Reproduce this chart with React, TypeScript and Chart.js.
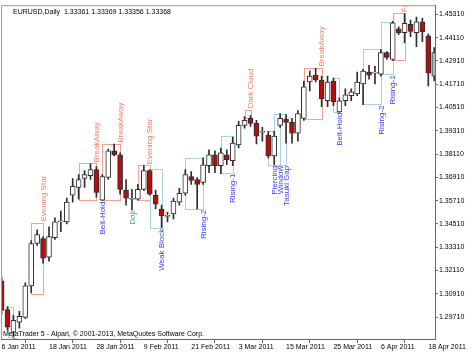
import React, { useEffect, useRef } from "react";
import { Chart, registerables } from "chart.js";

Chart.register(...registerables);

const FONT = "'Liberation Sans', Arial, sans-serif";

// Daily EURUSD candles, 6 Jan 2011 .. 19 Apr 2011 (index = trading day)
const opens = [
  1.31572, 1.301, 1.28933, 1.2944, 1.29694, 1.31318, 1.335, 1.33754, 1.3279, 1.33805,
  1.34617, 1.34617, 1.35987, 1.36393, 1.3685, 1.37002, 1.37307, 1.35733, 1.36901, 1.38271,
  1.38068, 1.36241, 1.3578, 1.35784, 1.36292, 1.37256, 1.35987, 1.35277, 1.34896, 1.35023,
  1.35632, 1.36089, 1.36951, 1.36799, 1.36647, 1.3751, 1.38068, 1.3751, 1.38068, 1.37763,
  1.38575, 1.3959, 1.39946, 1.39692, 1.39235, 1.39083, 1.38017, 1.3959, 1.39895, 1.39743,
  1.39184, 1.39946, 1.41823, 1.42179, 1.41925, 1.40859, 1.41874, 1.40276, 1.40859, 1.41113,
  1.41214, 1.41722, 1.42331, 1.4228, 1.42229, 1.43346, 1.42991, 1.44564, 1.44361, 1.44792,
  1.44361, 1.44919, 1.44209, 1.42128,
];
const highs = [
  1.31775, 1.30252, 1.29796, 1.29999, 1.3147, 1.33653, 1.34211, 1.33856, 1.34363, 1.3482,
  1.35175, 1.35835, 1.3685, 1.37053, 1.37256, 1.37611, 1.37459, 1.37053, 1.38372, 1.38626,
  1.38169, 1.36799, 1.36292, 1.36545, 1.3751, 1.37307, 1.36241, 1.3548, 1.35124, 1.35835,
  1.36342, 1.37307, 1.37205, 1.36901, 1.37916, 1.38322, 1.38271, 1.38423, 1.38322, 1.38981,
  1.39793, 1.40047, 1.40098, 1.39844, 1.39489, 1.39286, 1.39286, 1.40199, 1.40149, 1.39946,
  1.40352, 1.41874, 1.42382, 1.42534, 1.42128, 1.42128, 1.42026, 1.41011, 1.41468, 1.41468,
  1.42331, 1.42483, 1.42686, 1.42635, 1.43498, 1.43397, 1.44945, 1.44665, 1.45351, 1.45021,
  1.45173, 1.45122, 1.4431, 1.436,
];
const lows = [
  1.29846, 1.29034, 1.28679, 1.29136, 1.29643, 1.30963, 1.33399, 1.32485, 1.32587, 1.33704,
  1.34109, 1.34515, 1.35632, 1.35784, 1.36393, 1.36799, 1.35886, 1.35708, 1.36799, 1.38017,
  1.36038, 1.3548, 1.35226, 1.35733, 1.36241, 1.35987, 1.35277, 1.34312, 1.34617, 1.34769,
  1.3548, 1.35987, 1.36545, 1.35277, 1.36545, 1.37154, 1.37154, 1.37104, 1.3756, 1.3751,
  1.38423, 1.39438, 1.3954, 1.38626, 1.38778, 1.37916, 1.3756, 1.39489, 1.38677, 1.38677,
  1.38778, 1.39844, 1.41367, 1.41823, 1.40555, 1.40555, 1.40605, 1.4025, 1.40605, 1.40859,
  1.41113, 1.40656, 1.41976, 1.41722, 1.42128, 1.42991, 1.4294, 1.44259, 1.43853, 1.44158,
  1.4365, 1.43904, 1.4162, 1.41874,
];
const closes = [
  1.30049, 1.29187, 1.29542, 1.29745, 1.31318, 1.335, 1.33957, 1.32739, 1.33856, 1.34617,
  1.34668, 1.35632, 1.36444, 1.36799, 1.37053, 1.37307, 1.36139, 1.36951, 1.38271, 1.38068,
  1.36292, 1.35835, 1.3578, 1.36292, 1.37256, 1.36038, 1.3553, 1.34921, 1.34947, 1.35683,
  1.36089, 1.37053, 1.36748, 1.36545, 1.3756, 1.38068, 1.3751, 1.38169, 1.37814, 1.38677,
  1.3959, 1.39844, 1.39692, 1.39032, 1.39235, 1.38017, 1.39032, 1.39946, 1.39743, 1.39184,
  1.40199, 1.4157, 1.42128, 1.41925, 1.40961, 1.41823, 1.40808, 1.40859, 1.41164, 1.41316,
  1.41823, 1.42382, 1.42179, 1.42331, 1.43346, 1.43092, 1.44868, 1.44361, 1.44843, 1.44437,
  1.44919, 1.44412, 1.4228, 1.43346,
];

const xTickIndex = [0, 8, 16, 24, 32, 40, 48, 56, 64, 72];
const xTickLabels = [
  "6 Jan 2011", "18 Jan 2011", "28 Jan 2011", "9 Feb 2011", "21 Feb 2011",
  "3 Mar 2011", "15 Mar 2011", "25 Mar 2011", "6 Apr 2011", "18 Apr 2011",
];
const yTickValues = [
  1.2971, 1.3091, 1.3211, 1.3331, 1.3451, 1.3571, 1.3691, 1.3811, 1.3931, 1.4051,
  1.4171, 1.4291, 1.4411, 1.4531,
];
const yTickLabels = [
  "1.29710", "1.30910", "1.32110", "1.33310", "1.34510", "1.35710", "1.36910", "1.38110",
  "1.39310", "1.40510", "1.41710", "1.42910", "1.44110", "1.45310",
];
const xRange = [-0.098, 73.13];
const yRange = [1.28578, 1.45782];

// Candlestick patterns: bar range, kind, and the price box drawn around them
const patterns = [
  { name: "Piercing", start: 1, end: 2, kind: "bull", top: 1.30217, bottom: 1.28679 },
  { name: "Evening Star", start: 5, end: 7, kind: "bear", top: 1.34581, bottom: 1.30912 },
  { name: "BreakAway", start: 13, end: 16, kind: "bear", top: 1.37626, bottom: 1.35749 },
  { name: "Belt-Hold", start: 17, end: 17, kind: "bull", top: 1.37053, bottom: 1.35708 },
  { name: "BreakAway", start: 17, end: 20, kind: "bear", top: 1.38641, bottom: 1.35749 },
  { name: "Doji", start: 22, end: 22, kind: "neutral", top: 1.36292, bottom: 1.35226 },
  { name: "Evening Star", start: 23, end: 25, kind: "bear", top: 1.37525, bottom: 1.35749 },
  { name: "Weak Block", start: 25, end: 27, kind: "bull", top: 1.37322, bottom: 1.34312 },
  { name: "Rising-2", start: 31, end: 34, kind: "bull", top: 1.37916, bottom: 1.35292 },
  { name: "Rising-1", start: 37, end: 39, kind: "bull", top: 1.39017, bottom: 1.37154 },
  { name: "Dark Cloud", start: 41, end: 42, kind: "bear", top: 1.40402, bottom: 1.39946 },
  { name: "Piercing", start: 45, end: 46, kind: "bull", top: 1.39286, bottom: 1.3756 },
  { name: "Window", start: 46, end: 47, kind: "bull", top: 1.40199, bottom: 1.3756 },
  { name: "Tasuki Gap", start: 46, end: 48, kind: "bull", top: 1.40164, bottom: 1.3756 },
  { name: "BreakAway", start: 51, end: 54, kind: "bear", top: 1.4257, bottom: 1.39895 },
  { name: "Belt-Hold", start: 56, end: 57, kind: "bull", top: 1.42026, bottom: 1.40286 },
  { name: "Rising-2", start: 61, end: 64, kind: "bull", top: 1.43549, bottom: 1.40671 },
  { name: "Rising-1", start: 64, end: 66, kind: "bull", top: 1.44934, bottom: 1.42229 },
  { name: "Falling-1", start: 66, end: 68, kind: "bear", top: 1.45361, bottom: 1.4294 },
];

const headerText = "EURUSD,Daily  1.33361 1.33369 1.33356 1.33368";
const footerText = "MetaTrader 5 - Alpari, \u00A9 2001-2013, MetaQuotes Software Corp.";

const textColor: Record<string, string> = { bull: "#3c3cf0", bear: "#f47e6c", neutral: "#3a9ca0" };
const boxColor: Record<string, string> = { bull: "#a6d3df", bear: "#f7a291", neutral: "#a6d3df" };

const patternPlugin = {
  id: "patterns",
  beforeDatasetsDraw(chart: any) {
    const { ctx, chartArea, scales } = chart;
    const x = scales.x, y = scales.y;
    ctx.save();
    ctx.beginPath();
    ctx.rect(chartArea.left, chartArea.top, chartArea.right - chartArea.left, chartArea.bottom - chartArea.top);
    ctx.clip();
    ctx.lineWidth = 1;
    for (const p of patterns) {
      if (p.start === p.end) continue;
      const x0 = Math.round(x.getPixelForValue(p.start)) + 0.5;
      const x1 = Math.round(x.getPixelForValue(p.end)) + 0.5;
      const y0 = Math.round(y.getPixelForValue(p.top)) + 0.5;
      const y1 = Math.round(y.getPixelForValue(p.bottom)) + 0.5;
      ctx.strokeStyle = boxColor[p.kind];
      ctx.strokeRect(x0, y0, x1 - x0, y1 - y0);
    }
    ctx.restore();
  },
  afterDatasetsDraw(chart: any) {
    const { ctx, chartArea, scales } = chart;
    const x = scales.x, y = scales.y;
    ctx.save();
    ctx.beginPath();
    ctx.rect(chartArea.left, chartArea.top, chartArea.right - chartArea.left, chartArea.bottom - chartArea.top);
    ctx.clip();
    ctx.font = `8px ${FONT}`;
    ctx.textBaseline = "middle";
    for (const p of patterns) {
      const px = x.getPixelForValue(p.end) + 0.5;
      ctx.fillStyle = textColor[p.kind];
      ctx.save();
      if (p.kind === "bear") {
        ctx.translate(px, y.getPixelForValue(p.top) - 1);
        ctx.rotate(-Math.PI / 2);
        ctx.textAlign = "left";
      } else {
        ctx.translate(px, y.getPixelForValue(p.bottom) + 1);
        ctx.rotate(-Math.PI / 2);
        ctx.textAlign = "right";
      }
      ctx.fillText(p.name, 0, 0);
      ctx.restore();
    }
    ctx.restore();
  },
  afterDraw(chart: any) {
    const { ctx, chartArea } = chart;
    ctx.save();
    ctx.strokeStyle = "#9a9a9a";
    ctx.lineWidth = 1;
    ctx.beginPath();
    ctx.moveTo(chartArea.left + 0.5, chartArea.bottom);
    ctx.lineTo(chartArea.left + 0.5, chartArea.top + 0.5);
    ctx.lineTo(chartArea.right, chartArea.top + 0.5);
    ctx.stroke();
    ctx.fillStyle = "#000000";
    ctx.font = `7px ${FONT}`;
    ctx.textBaseline = "middle";
    ctx.textAlign = "left";
    ctx.fillText(headerText, chartArea.left + 12, chartArea.top + 7);
    ctx.fillText(footerText, chartArea.left + 2, chartArea.bottom - 5);
    ctx.restore();
  },
};

export default function App() {
  const ref = useRef<HTMLCanvasElement | null>(null);
  useEffect(() => {
    if (!ref.current) return;
    const last = opens.length - 1;
    const bodyFill = opens.map((o, i) =>
      i === last ? "#b4b4b4" : closes[i] >= o ? "#ffffff" : "#b40e0e"
    );
    const chart = new Chart(ref.current, {
      type: "bar",
      data: {
        datasets: [
          {
            label: "body",
            data: opens.map((o, i) => ({ x: i, y: [o, closes[i]] })) as any,
            backgroundColor: bodyFill,
            borderColor: "#2e2e2e",
            borderWidth: 1,
            borderSkipped: false,
            barThickness: 5,
            minBarLength: 1,
            grouped: false,
          } as any,
          {
            label: "wick",
            data: lows.map((l, i) => ({ x: i, y: [l, highs[i]] })) as any,
            backgroundColor: "#2e2e2e",
            borderWidth: 0,
            barThickness: 1,
            grouped: false,
          } as any,
        ],
      },
      options: {
        animation: false,
        responsive: false,
        devicePixelRatio: 1,
        layout: { autoPadding: false, padding: { left: 1, top: 0, right: 0, bottom: 0 } } as any,
        plugins: { legend: { display: false }, tooltip: { enabled: false } },
        scales: {
          x: {
            type: "linear",
            position: "bottom",
            min: xRange[0],
            max: xRange[1],
            offset: false,
            afterBuildTicks: (scale: any) => {
              scale.ticks = xTickIndex.map((v) => ({ value: v }));
            },
            afterFit: (scale: any) => {
              scale.height = 16;
            },
            grid: { drawOnChartArea: false, drawTicks: true, tickLength: 4, color: "#6a6a6a" },
            border: { display: true, color: "#6a6a6a" },
            ticks: {
              autoSkip: false,
              maxRotation: 0,
              minRotation: 0,
              align: "start",
              padding: 0,
              color: "#000000",
              font: { family: FONT, size: 7 },
              callback: (_v: any, i: number) => xTickLabels[i],
            },
          },
          y: {
            type: "linear",
            position: "right",
            min: yRange[0],
            max: yRange[1],
            afterBuildTicks: (scale: any) => {
              scale.ticks = yTickValues.map((v) => ({ value: v }));
            },
            afterFit: (scale: any) => {
              scale.width = 39;
            },
            grid: { drawOnChartArea: false, drawTicks: true, tickLength: 3, color: "#6a6a6a" },
            border: { display: true, color: "#6a6a6a" },
            ticks: {
              autoSkip: false,
              padding: 1,
              color: "#000000",
              font: { family: FONT, size: 7 },
              callback: (_v: any, i: number) => yTickLabels[i],
            },
          },
        },
      } as any,
      plugins: [patternPlugin],
    });
    return () => chart.destroy();
  }, []);
  return (
    <div style={{ position: "absolute", left: 0, top: 0, width: 474, height: 355, background: "#ffffff" }}>
      <canvas ref={ref} width={474} height={355} style={{ display: "block" }} />
    </div>
  );
}
